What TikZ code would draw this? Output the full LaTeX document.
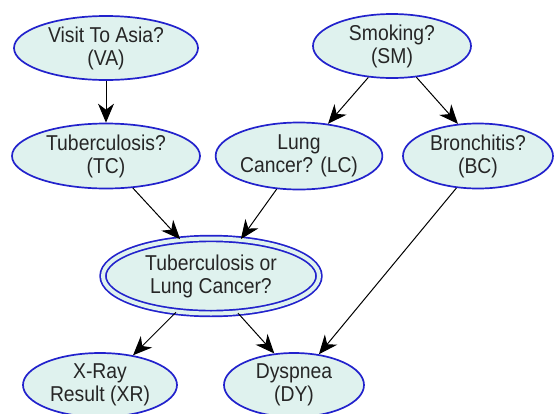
\documentclass[tikz,border=0pt]{standalone}
\usepackage{fontspec}
\setmainfont{Liberation Sans}[FakeStretch=0.9]
\usetikzlibrary{shapes.geometric,arrows.meta}
\definecolor{nodefill}{HTML}{DFF2EE}
\definecolor{nodeline}{HTML}{2222CC}
\begin{document}
\begin{tikzpicture}[x=1pt,y=-1pt,
  bnode/.style={ellipse, draw=nodeline, fill=nodefill, line width=1.7pt, inner sep=0pt,
    align=center, font=\fontsize{21.5}{23}\selectfont, text=black!85},
  link/.style={-{Stealth[length=19pt,width=16pt,inset=6pt]}, line width=1pt, black}]
\useasboundingbox (0,0) rectangle (555,413);
\node[bnode, minimum width=184pt, minimum height=64pt] (VA) at (106,48) {Visit To Asia?\\(VA)};
\node[bnode, minimum width=158pt, minimum height=64pt] (SM) at (392,46) {Smoking?\\(SM)};
\node[bnode, minimum width=188pt, minimum height=65pt] (TC) at (106,156) {Tuberculosis?\\(TC)};
\node[bnode, minimum width=163pt, minimum height=67pt] (LC) at (299,156) {Lung\\Cancer? (LC)};
\node[bnode, minimum width=150pt, minimum height=65pt] (BC) at (478,156) {Bronchitis?\\(BC)};
\node[bnode, double=nodefill, double distance=4pt, minimum width=216pt, minimum height=75pt] (TL) at (211,276) {Tuberculosis or\\Lung Cancer?};
\node[bnode, minimum width=154pt, minimum height=64pt] (XR) at (100,385) {X-Ray\\Result (XR)};
\node[bnode, minimum width=140pt, minimum height=64pt] (DY) at (294,385) {Dyspnea\\(DY)};
\draw[link] (VA.south) -- (TC.north);
\draw[link] (SM.-127) -- (LC.48);
\draw[link] (SM.-52) -- (BC.122);
\draw[link] (TC.-50) -- (TL.130);
\draw[link] (LC.-124) -- (TL.51);
\draw[link] (BC.-124) -- (DY.51);
\draw[link] (TL.-134) -- (XR.42);
\draw[link] (TL.-54) -- (DY.122);
\end{tikzpicture}
\end{document}
